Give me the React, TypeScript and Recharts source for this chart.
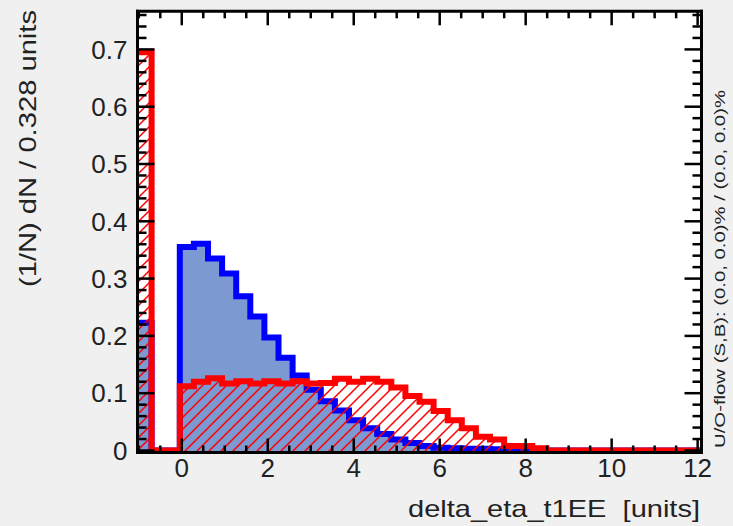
import { ComposedChart, Area, XAxis, YAxis, CartesianGrid } from 'recharts'

const W = 733
const H = 526
const FONT = "'Liberation Sans', Arial, Helvetica, sans-serif"
const TEXT = '#222'

const X_MIN = -1.03
const BIN_WIDTH = 0.328
const N_BINS = 40
const X_MAX = X_MIN + N_BINS * BIN_WIDTH
// zero sits a couple of pixels above the frame line, as in the original
const Y_MIN = -0.0035
const Y_MAX = 0.7665

// normalised histograms, one value per bin (first bin = underflow spike)
const signal = [
  0.223, 0, 0, 0.355, 0.361, 0.335, 0.309, 0.269, 0.234, 0.197,
  0.162, 0.131, 0.106, 0.086, 0.07, 0.053, 0.039, 0.029, 0.019, 0.013,
  0.008, 0.005, 0.004, 0.003, 0.003, 0.002, 0.002, 0.001, 0, 0,
  0, 0, 0, 0, 0, 0, 0, 0, 0, 0,
]
const background = [
  0.695, 0, 0, 0.112, 0.12, 0.126, 0.117, 0.121, 0.117, 0.121,
  0.117, 0.121, 0.117, 0.118, 0.125, 0.12, 0.125, 0.12, 0.11, 0.095,
  0.085, 0.069, 0.053, 0.039, 0.024, 0.019, 0.008, 0.008, 0.004, 0,
  0, 0, 0, 0, 0, 0, 0, 0, 0, 0,
]

const xMajorTicks = [0, 2, 4, 6, 8, 10, 12]
const yMajorTicks = [0, 0.1, 0.2, 0.3, 0.4, 0.5, 0.6, 0.7]
const yTickLabels = ['0', '0.1', '0.2', '0.3', '0.4', '0.5', '0.6', '0.7']

const xTitle = 'delta_eta_t1EE  [units]'
const yTitle = '(1/N) dN / 0.328 units'
const flowText = 'U/O-flow (S,B): (0.0, 0.0)% / (0.0, 0.0)%'

// minor ticks every 0.5 on x, every 0.02 on y
const xTicks = Array.from({ length: 27 }, (_, i) => -1 + i * 0.5)
const yTicks = Array.from({ length: 39 }, (_, i) => (2 * i) / 100)

// one row per bin edge, plus the closing edge, for step drawing
const rows = signal.map((s, i) => ({ x: X_MIN + i * BIN_WIDTH, sig: s, bkg: background[i] }))
rows.push({ x: X_MAX, sig: signal[N_BINS - 1], bkg: background[N_BINS - 1] })

const isMajorX = (v: number) => xMajorTicks.includes(v)
const isMajorY = (v: number) => yMajorTicks.includes(v)

const TICK_W = 2.5

function BottomTick(p: any) {
  const v = p.payload.value
  const major = isMajorX(v)
  return (
    <g>
      <line x1={p.x} x2={p.x} y1={p.y} y2={p.y - (major ? 14 : 7)} stroke="#000" strokeWidth={TICK_W} />
      {major && (
        <text x={p.x} y={p.y + 24} textAnchor="middle" fontSize={26} fontFamily={FONT} fill={TEXT}>
          {String(v)}
        </text>
      )}
    </g>
  )
}

function TopTick(p: any) {
  const major = isMajorX(p.payload.value)
  return <line x1={p.x} x2={p.x} y1={p.y} y2={p.y + (major ? 14 : 7)} stroke="#000" strokeWidth={TICK_W} />
}

function LeftTick(p: any) {
  const v = p.payload.value
  const major = isMajorY(v)
  return (
    <g>
      <line x1={p.x} x2={p.x + (major ? 17 : 9)} y1={p.y} y2={p.y} stroke="#000" strokeWidth={TICK_W} />
      {major && (
        <text x={p.x - 10} y={p.y + 9.3} textAnchor="end" fontSize={26} fontFamily={FONT} fill={TEXT}>
          {yTickLabels[yMajorTicks.indexOf(v)]}
        </text>
      )}
    </g>
  )
}

function RightTick(p: any) {
  const major = isMajorY(p.payload.value)
  return <line x1={p.x} x2={p.x - (major ? 17 : 9)} y1={p.y} y2={p.y} stroke="#000" strokeWidth={TICK_W} />
}

const frame = { stroke: '#000', strokeWidth: 3, strokeLinecap: 'square' as const }

export default function App() {
  return (
    <div style={{ position: 'relative', width: W, height: H, background: '#f0f0f0', overflow: 'hidden' }}>
      <style>{'body{margin:0}'}</style>
      <svg width={0} height={0} style={{ position: 'absolute' }}>
        <defs>
          <pattern id="bkgHatch" patternUnits="userSpaceOnUse" width={12} height={12}>
            <path d="M-3,3 L3,-3 M0,12 L12,0 M9,15 L15,9" stroke="#ff0000" strokeWidth={1.5} />
          </pattern>
        </defs>
      </svg>
      <ComposedChart
        width={W}
        height={H}
        data={rows}
        margin={{ top: 10.3, right: 30.5, bottom: 33.5, left: 77.5 }}
      >
        <CartesianGrid horizontal={false} vertical={false} fill="#ffffff" stroke="none" />
        <Area
          type="stepAfter"
          dataKey="sig"
          baseValue="dataMin"
          stroke="#0000ff"
          strokeWidth={6}
          strokeLinejoin="miter"
          fill="#7d99d1"
          fillOpacity={1}
          dot={false}
          activeDot={false}
          isAnimationActive={false}
        />
        <Area
          type="stepAfter"
          dataKey="bkg"
          baseValue="dataMin"
          stroke="#ff0000"
          strokeWidth={6}
          strokeLinejoin="miter"
          fill="url(#bkgHatch)"
          fillOpacity={1}
          dot={false}
          activeDot={false}
          isAnimationActive={false}
        />
        <XAxis
          dataKey="x"
          type="number"
          domain={[X_MIN, X_MAX]}
          allowDataOverflow
          ticks={xTicks}
          interval={0}
          tickSize={0}
          tickMargin={0}
          tickLine={false}
          tick={BottomTick}
          axisLine={frame}
          height={40}
        />
        <XAxis
          xAxisId="top"
          orientation="top"
          dataKey="x"
          type="number"
          domain={[X_MIN, X_MAX]}
          allowDataOverflow
          ticks={xTicks}
          interval={0}
          tickSize={0}
          tickMargin={0}
          tickLine={false}
          tick={TopTick}
          axisLine={frame}
          height={1}
        />
        <YAxis
          type="number"
          domain={[Y_MIN, Y_MAX]}
          allowDataOverflow
          ticks={yTicks}
          interval={0}
          tickSize={0}
          tickMargin={0}
          tickLine={false}
          tick={LeftTick}
          axisLine={frame}
          width={60}
        />
        <YAxis
          yAxisId="right"
          orientation="right"
          type="number"
          domain={[Y_MIN, Y_MAX]}
          allowDataOverflow
          ticks={yTicks}
          interval={0}
          tickSize={0}
          tickMargin={0}
          tickLine={false}
          tick={RightTick}
          axisLine={frame}
          width={1}
        />
      </ComposedChart>
      <svg
        width={W}
        height={H}
        style={{ position: 'absolute', left: 0, top: 0, pointerEvents: 'none' }}
        fontFamily={FONT}
        fill={TEXT}
      >
        <text
          x={700}
          y={517}
          textAnchor="end"
          fontSize={24}
          textLength={292}
          lengthAdjust="spacingAndGlyphs"
          style={{ whiteSpace: 'pre' }}
        >
          {xTitle}
        </text>
        <text
          transform="translate(36,10) rotate(-90)"
          textAnchor="end"
          fontSize={24}
          textLength={277}
          lengthAdjust="spacingAndGlyphs"
        >
          {yTitle}
        </text>
        <text
          transform="translate(725,448) rotate(-90)"
          textAnchor="start"
          fontSize={14}
          textLength={358}
          lengthAdjust="spacingAndGlyphs"
        >
          {flowText}
        </text>
      </svg>
    </div>
  )
}
